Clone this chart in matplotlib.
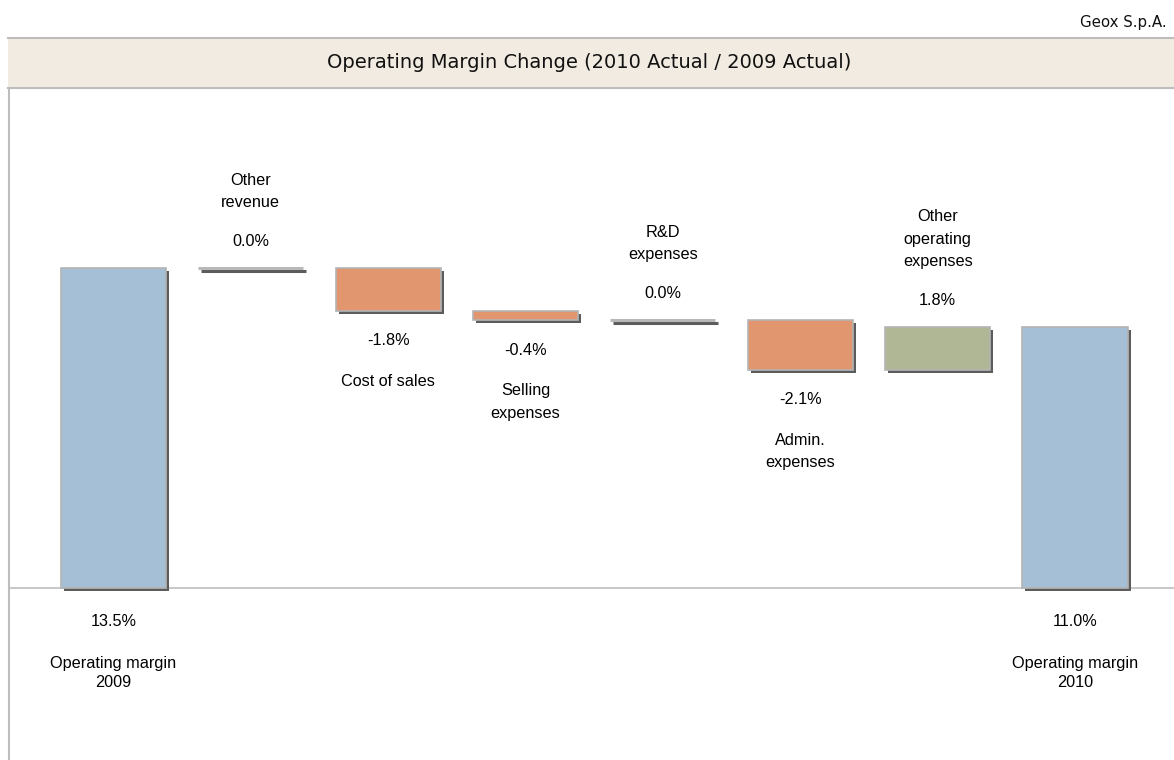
import matplotlib
matplotlib.use("Agg")
import matplotlib.pyplot as plt
import matplotlib.transforms as mtransforms
from matplotlib.patches import Rectangle

# ---- data ----
categories = ["Operating margin\n2009", "Other\nrevenue", "Cost of sales", "Selling\nexpenses",
              "R&D\nexpenses", "Admin.\nexpenses", "Other\noperating\nexpenses", "Operating margin\n2010"]
values = [13.5, 0.0, -1.8, -0.4, 0.0, -2.1, 1.8, 11.0]
kinds = ["total", "delta", "delta", "delta", "delta", "delta", "delta", "total"]
value_labels = ["13.5%", "0.0%", "-1.8%", "-0.4%", "0.0%", "-2.1%", "1.8%", "11.0%"]
title = "Operating Margin Change (2010 Actual / 2009 Actual)"
company = "Geox S.p.A."

BLUE = "#A5BFD7"
ORANGE = "#E29670"
GREEN = "#B0B794"
EDGE = "#B4B4B4"
SHADOW = "#5C5C5C"

W, H = 1174, 760
fig = plt.figure(figsize=(W / 100, H / 100), dpi=100)
fig.patch.set_facecolor("white")

def fx(px):
    return px / W

def fy(py):
    return 1 - py / H

# title bar
tb = fig.add_axes([fx(8), fy(88), fx(W - 8) + 0.01, (88 - 38) / H])
tb.set_xlim(0, 1); tb.set_ylim(0, 1)
tb.set_facecolor("#F2EBE1")
for s in ["left", "right"]:
    tb.spines[s].set_visible(False)
for s in ["top", "bottom"]:
    tb.spines[s].set_color("#BDBDBD")
    tb.spines[s].set_linewidth(1.5)
tb.set_xticks([]); tb.set_yticks([])
tb.text((583 - 8) / (W - 8), 0.5, title, ha="center", va="center",
        fontsize=14.0, family="DejaVu Sans", color="#111111")

fig.text(fx(1167), fy(22), company, ha="right", va="center", fontsize=10.8,
         family="DejaVu Sans", color="#111111")

# main axes
ax = fig.add_axes([fx(8), 0, 1 - fx(8), fy(89)])
px_per_unit = 23.7
zero_py = 588
ax.set_ylim(-(760 - zero_py) / px_per_unit, (zero_py - 89) / px_per_unit)
spacing = (1075 - 113.5) / 7
ax.set_xlim(-(113.5 - 8) / spacing, 7 + (1174 - 1075) / spacing)
ax.axis("off")

# left frame line & zero line
fig.add_artist(plt.Line2D([fx(8.5), fx(8.5)], [0, fy(88)], color="#BDBDBD", lw=1.5))
ax.axhline(0, color="#C4C4C4", lw=1.3, zorder=1)

shadow_tr = ax.transData + mtransforms.ScaledTranslation(3 / 100, -3 / 100, fig.dpi_scale_trans)

width = 0.765
running = 0.0
fs = 11.7
fam = "Liberation Sans"
ls = 1.62
for i, (v, k, cat, vl) in enumerate(zip(values, kinds, categories, value_labels)):
    if k == "total":
        bottom, top = 0.0, v
        color = BLUE
        running = v
    else:
        start = running
        end = running + v
        bottom, top = min(start, end), max(start, end)
        color = ORANGE if v < 0 else GREEN
        running = end
    x0 = i - width / 2
    h = top - bottom
    if h > 0:
        ax.add_patch(Rectangle((x0, bottom), width, h, facecolor=SHADOW, edgecolor="none",
                               transform=shadow_tr, zorder=2))
        ax.add_patch(Rectangle((x0, bottom), width, h, facecolor=color, edgecolor=EDGE,
                               lw=1.2, zorder=3))
    else:
        ax.plot([x0, x0 + width], [top, top], color=SHADOW, lw=2.2, transform=shadow_tr,
                zorder=2, solid_capstyle="butt")
        ax.plot([x0, x0 + width], [top, top], color="#B8B8B8", lw=2.2, zorder=3,
                solid_capstyle="butt")

    if k == "total":
        ax.annotate(vl, (i, 0), xytext=(0, -33), textcoords="offset pixels",
                    ha="center", va="center", fontsize=fs, family=fam)
        ax.annotate(cat, (i, 0), xytext=(0, -85), textcoords="offset pixels",
                    ha="center", va="center", fontsize=fs, family=fam, linespacing=1.35)
    elif v < 0:
        ax.annotate(vl, (i, bottom), xytext=(0, -30), textcoords="offset pixels",
                    ha="center", va="center", fontsize=fs, family=fam)
        ax.annotate(cat, (i, bottom), xytext=(0, -63), textcoords="offset pixels",
                    ha="center", va="top", fontsize=fs, family=fam, linespacing=ls)
    else:
        ax.annotate(vl, (i, top), xytext=(0, 27), textcoords="offset pixels",
                    ha="center", va="center", fontsize=fs, family=fam)
        ax.annotate(cat, (i, top), xytext=(0, 58), textcoords="offset pixels",
                    ha="center", va="bottom", fontsize=fs, family=fam, linespacing=ls)

fig.savefig("out.png", dpi=100, facecolor="white")
